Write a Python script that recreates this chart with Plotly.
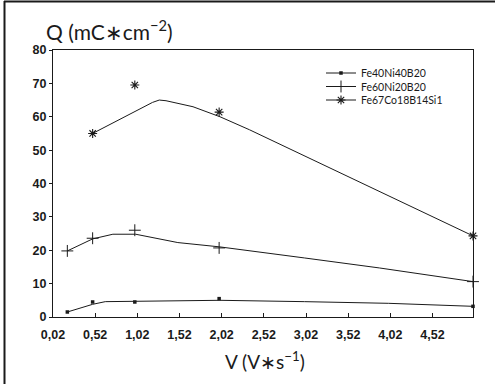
import plotly.graph_objects as go

# ---- data ----
series_names = ["Fe40Ni40B20", "Fe60Ni20B20", "Fe67Co18B14Si1"]

# measured points (markers)
pts_x = [0.19, 0.49, 0.99, 1.99, 5.0]
fe40_pts = [1.5, 4.5, 4.5, 5.5, 3.2]
fe60_pts = [19.8, 23.6, 26.0, 20.7, 10.6]
fe67_x = [0.49, 0.99, 1.99, 5.0]
fe67_pts = [55.0, 69.5, 61.4, 24.3]

# fitted curves (vertices)
fe40_curve_x = [0.19, 0.49, 0.64, 1.0, 1.5, 2.0, 3.0, 4.0, 5.0]
fe40_curve_y = [1.5, 3.8, 4.6, 4.7, 4.9, 5.0, 4.6, 4.1, 3.2]
fe60_curve_x = [0.19, 0.49, 0.73, 1.0, 1.5, 2.0, 3.0, 3.89, 5.0]
fe60_curve_y = [19.8, 23.4, 24.8, 24.8, 22.3, 21.0, 17.7, 14.7, 10.6]
fe67_curve_x = [0.49, 1.2, 1.28, 1.36, 1.68, 2.0, 2.35, 5.0]
fe67_curve_y = [55.0, 64.3, 65.0, 64.8, 63.0, 60.0, 56.1, 24.3]

x_tickvals = [0.02, 0.52, 1.02, 1.52, 2.02, 2.52, 3.02, 3.52, 4.02, 4.52]
x_ticktext = ["0,02", "0,52", "1,02", "1,52", "2,02", "2,52", "3,02", "3,52", "4,02", "4,52"]
y_tickvals = [0, 10, 20, 30, 40, 50, 60, 70, 80]

INK = "#1a1a1a"
LEGEND_FONT = dict(family="Lato", size=10.5, color=INK)

fig = go.Figure()

specs = [
    (series_names[0], pts_x, fe40_pts, fe40_curve_x, fe40_curve_y,
     dict(symbol="square", size=3.5, color=INK), "legend"),
    (series_names[1], pts_x, fe60_pts, fe60_curve_x, fe60_curve_y,
     dict(symbol="cross-thin-open", size=8.5, color=INK, line=dict(color=INK, width=1)), "legend2"),
    (series_names[2], fe67_x, fe67_pts, fe67_curve_x, fe67_curve_y,
     dict(symbol="asterisk-open", size=7.5, color=INK, line=dict(color=INK, width=1.1)), "legend3"),
]

for name, px_, py_, cx, cy, mk, lg in specs:
    # fitted curve, shown in the legend with its marker (curve vertices hidden via selection styling)
    fig.add_trace(go.Scatter(
        x=cx, y=cy, mode="lines+markers", name=name, legend=lg,
        line=dict(color=INK, width=1),
        marker=mk,
        selectedpoints=[],
        unselected=dict(marker=dict(opacity=0)),
        cliponaxis=False, hoverinfo="skip",
    ))
    # measured points
    fig.add_trace(go.Scatter(
        x=px_, y=py_, mode="markers", name=name, showlegend=False,
        marker=mk, cliponaxis=False,
    ))

# plot area geometry (px): left 53, right 473, top 50, bottom 317
L, R, T, B = 53, 473, 50, 317
W, H = 495, 384
def px2x(p):
    return (p - L) / (R - L)
def py2y(p):
    return (B - p) / (B - T)

legend_common = dict(
    bgcolor="rgba(0,0,0,0)", borderwidth=0, font=LEGEND_FONT,
    xanchor="left", yanchor="middle", itemclick=False, itemdoubleclick=False,
)

fig.update_layout(
    width=W, height=H,
    margin=dict(l=L, r=W - R, t=T, b=H - B),
    paper_bgcolor="white", plot_bgcolor="white",
    font=dict(family="Liberation Sans", color=INK),
    showlegend=True,
    legend=dict(x=px2x(321), y=py2y(73), **legend_common),
    legend2=dict(x=px2x(321), y=py2y(86.5), **legend_common),
    legend3=dict(x=px2x(321), y=py2y(100), **legend_common),
    xaxis=dict(
        range=[0.02, 5.0], tickvals=x_tickvals, ticktext=x_ticktext,
        ticks="inside", ticklen=4, tickcolor=INK, tickwidth=1,
        ticklabelstandoff=6,
        showline=True, linecolor=INK, linewidth=1, mirror=True,
        showgrid=False, zeroline=False,
        tickfont=dict(family="Liberation Sans", size=12.5, color=INK, weight="bold"),
    ),
    yaxis=dict(
        range=[0, 80], tickvals=y_tickvals,
        ticks="outside", ticklen=3, tickcolor=INK, tickwidth=1,
        showline=True, linecolor=INK, linewidth=1.3, mirror=True,
        showgrid=False, zeroline=False,
        tickfont=dict(family="Liberation Sans", size=12.5, color=INK, weight="bold"),
    ),
    annotations=[
        dict(text="Q (mC∗cm<sup>−2</sup>)", xref="paper", yref="paper",
             x=px2x(44), y=py2y(30), xanchor="left", yanchor="middle",
             showarrow=False, font=dict(family="Lato", size=21, color=INK)),
        dict(text="V (V∗s<sup>−1</sup>)", xref="paper", yref="paper",
             x=px2x(265), y=py2y(360), xanchor="center", yanchor="middle",
             showarrow=False, font=dict(family="Lato", size=19, color=INK)),
    ],
    shapes=[
        dict(type="line", xref="paper", yref="paper",
             x0=px2x(4.5), x1=px2x(4.5), y0=py2y(1), y1=py2y(384),
             line=dict(color=INK, width=2)),
        dict(type="line", xref="paper", yref="paper",
             x0=px2x(4), x1=px2x(495), y0=py2y(1.5), y1=py2y(1.5),
             line=dict(color=INK, width=2)),
    ],
)

fig.write_html("out.html", config={"displayModeBar": False},
               post_script="document.body.style.margin='0';")
